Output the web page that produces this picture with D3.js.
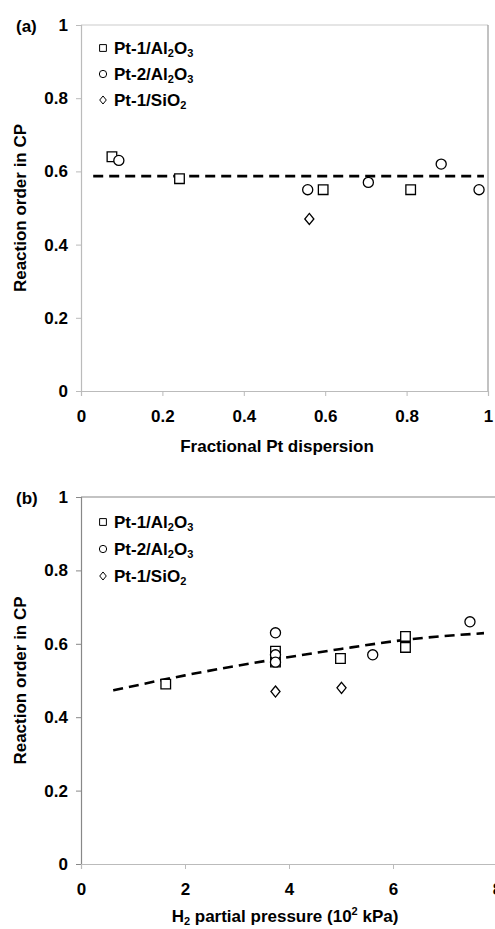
<!DOCTYPE html>
<html>
<head>
<meta charset="utf-8">
<script src="https://cdn.jsdelivr.net/npm/d3@7"></script>
<style>
  body { margin: 0; background: #fff; }
  svg text { font-family: "Liberation Sans", Arial, sans-serif; font-weight: bold; fill: #000; }
</style>
</head>
<body>
<svg id="chart" width="495" height="929"></svg>
<script>
// panel (a): reaction order vs fractional Pt dispersion
var dispPt1Al = [[0.076, 0.64], [0.242, 0.58], [0.595, 0.55], [0.81, 0.55]];
var dispPt2Al = [[0.093, 0.63], [0.557, 0.55], [0.706, 0.57], [0.885, 0.62], [0.978, 0.55]];
var dispPt1Si = [[0.561, 0.47]];
var dispFit   = [[0.03, 0.587], [0.99, 0.587]];
var dispTicks = [0, 0.2, 0.4, 0.6, 0.8, 1];

// panel (b): reaction order vs H2 partial pressure
var pressPt1Al = [[1.63, 0.49], [3.74, 0.58], [3.74, 0.55], [4.99, 0.56], [6.24, 0.62], [6.24, 0.59]];
var pressPt2Al = [[3.74, 0.63], [3.74, 0.57], [3.74, 0.55], [5.61, 0.57], [7.48, 0.66]];
var pressPt1Si = [[3.74, 0.47], [5.01, 0.48]];
var pressFit   = [[0.62, 0.473], [2, 0.514], [3.75, 0.558], [5, 0.586], [6.25, 0.611], [7.75, 0.629]];
var pressTicks = [0, 2, 4, 6, 8];

var orderTicks = [0, 0.2, 0.4, 0.6, 0.8, 1];

// legend labels: [text, isSubscript]
var legendLabels = [
    [["Pt-1/Al", false], ["2", true], ["O", false], ["3", true]],
    [["Pt-2/Al", false], ["2", true], ["O", false], ["3", true]],
    [["Pt-1/SiO", false], ["2", true]]
];

var svg = d3.select("#chart");
var FS = 17, SUB = 11;

// diamond a bit wider than d3's default one
var wideDiamond = {
    draw: function (ctx, size) {
        var h = Math.sqrt(size) * 0.62, w = h * 0.82;
        ctx.moveTo(0, -h); ctx.lineTo(w, 0); ctx.lineTo(0, h); ctx.lineTo(-w, 0); ctx.closePath();
    }
};
var shapes = [d3.symbolSquare, d3.symbolCircle, wideDiamond];
var sizes  = [92, 80, 80];
var legendSizes = [46, 42, 42];

function fmt(d) { return d % 1 === 0 ? String(d) : d3.format(".1f")(d); }

function drawPanel(opt) {
    var x = d3.scaleLinear().domain(opt.xDomain).range([opt.left, opt.right]);
    var y = d3.scaleLinear().domain([0, 1]).range([opt.bottom, opt.top]);
    var g = svg.append("g");

    // frame
    g.append("line").attr("x1", opt.left).attr("x2", opt.right).attr("y1", opt.top).attr("y2", opt.top)
        .attr("stroke", opt.topColor).attr("stroke-width", 1.2);
    g.append("line").attr("x1", opt.right).attr("x2", opt.right).attr("y1", opt.top).attr("y2", opt.bottom)
        .attr("stroke", "#999").attr("stroke-width", 1.2);

    var yAxis = g.append("g").attr("transform", "translate(" + opt.left + ",0)")
        .call(d3.axisLeft(y).tickValues(orderTicks).tickSize(5).tickPadding(8).tickFormat(fmt));
    yAxis.select(".domain").attr("stroke", opt.leftColor).attr("stroke-width", 1.2);
    yAxis.selectAll(".tick line").attr("stroke", opt.leftColor);
    yAxis.selectAll("text").attr("font-size", FS).attr("font-family", null);

    var xAxis = g.append("g").attr("transform", "translate(0," + opt.bottom + ")")
        .call(d3.axisBottom(x).tickValues(opt.xTicks).tickSize(5).tickPadding(14).tickFormat(fmt));
    xAxis.select(".domain").attr("stroke", "#bbb").attr("stroke-width", 1.2);
    xAxis.selectAll(".tick line").attr("stroke", "#bbb");
    xAxis.selectAll("text").attr("font-size", FS).attr("font-family", null);

    // fit line
    g.append("path").datum(opt.fit)
        .attr("d", d3.line().x(function (d) { return x(d[0]); }).y(function (d) { return y(d[1]); }).curve(d3.curveMonotoneX))
        .attr("fill", "none").attr("stroke", "#000").attr("stroke-width", 2.6).attr("stroke-dasharray", "10,6");

    // markers
    opt.series.forEach(function (pts, i) {
        g.selectAll(null).data(pts).enter().append("path")
            .attr("d", d3.symbol().type(shapes[i]).size(sizes[i]))
            .attr("transform", function (d) { return "translate(" + x(d[0]) + "," + y(d[1]) + ")"; })
            .attr("fill", "#fff").attr("stroke", "#000").attr("stroke-width", 1.3);
    });

    // legend
    legendLabels.forEach(function (parts, i) {
        var ly = opt.legendY + i * opt.legendStep;
        g.append("path").attr("d", d3.symbol().type(shapes[i]).size(legendSizes[i]))
            .attr("transform", "translate(103," + ly + ")")
            .attr("fill", "#fff").attr("stroke", "#000").attr("stroke-width", 1);
        var t = g.append("text").attr("x", 114).attr("y", ly + 6).attr("font-size", FS);
        var shifted = false;
        parts.forEach(function (p) {
            if (p[1]) { t.append("tspan").attr("font-size", SUB).attr("dy", 3).text(p[0]); shifted = true; }
            else { t.append("tspan").attr("dy", shifted ? -3 : 0).text(p[0]); shifted = false; }
        });
    });

    // panel label
    g.append("text").attr("x", 16).attr("y", opt.top + 7).attr("font-size", FS).text(opt.tag);

    // y axis title
    g.append("text").attr("transform", "translate(26," + ((opt.top + opt.bottom) / 2) + ") rotate(-90)")
        .attr("text-anchor", "middle").attr("font-size", FS).text("Reaction order in CP");

    return { g: g, x: x, y: y };
}

var a = drawPanel({
    tag: "(a)", xDomain: [0, 1], xTicks: dispTicks,
    left: 81, right: 488, top: 25, bottom: 391,
    topColor: "#ccc", leftColor: "#bbb",
    fit: dispFit, series: [dispPt1Al, dispPt2Al, dispPt1Si],
    legendY: 48, legendStep: 26
});
a.g.append("text").attr("x", 277).attr("y", 452).attr("text-anchor", "middle").attr("font-size", FS)
    .text("Fractional Pt dispersion");

var b = drawPanel({
    tag: "(b)", xDomain: [0, 8], xTicks: pressTicks,
    left: 81, right: 497, top: 497, bottom: 864,
    topColor: "#888", leftColor: "#888",
    fit: pressFit, series: [pressPt1Al, pressPt2Al, pressPt1Si],
    legendY: 522, legendStep: 27
});
var bt = b.g.append("text").attr("x", 285).attr("y", 922).attr("text-anchor", "middle").attr("font-size", FS);
bt.append("tspan").text("H");
bt.append("tspan").attr("font-size", SUB).attr("dy", 3).text("2");
bt.append("tspan").attr("dy", -3).text(" partial pressure (10");
bt.append("tspan").attr("font-size", SUB).attr("dy", -7).text("2");
bt.append("tspan").attr("dy", 7).text(" kPa)");
</script>
</body>
</html>
